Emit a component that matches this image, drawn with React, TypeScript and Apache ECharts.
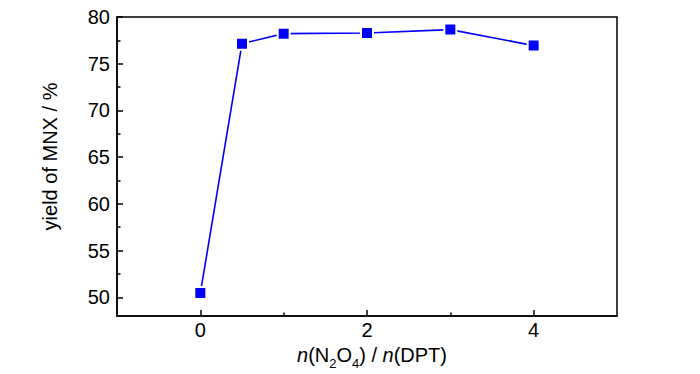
import React, { useEffect, useRef } from "react";
import * as echarts from "echarts";

const ratios = [0, 0.5, 1, 2, 3, 4];
const yields = [50.45, 77.15, 78.22, 78.29, 78.65, 76.94];
const xMajor = [0, 2, 4];
const xMinor = [1, 3];
const yMajor = [50, 55, 60, 65, 70, 75, 80];
const yMinor = [52.5, 57.5, 62.5, 67.5, 72.5, 77.5];

const FONT = "'Liberation Sans', Arial, sans-serif";

export default function App() {
  const ref = useRef<HTMLDivElement>(null);
  useEffect(() => {
    if (!ref.current) return;
    const chart = echarts.init(ref.current, undefined, { renderer: "svg" });
    const baseAxis = {
      type: "value" as const,
      splitLine: { show: false },
    };
    chart.setOption({
      animation: false,
      backgroundColor: "#fff",
      grid: {
        left: 117,
        top: 17,
        right: 83,
        bottom: 58,
        outerBoundsMode: "none",
        containLabel: false,
        show: true,
        borderColor: "#000",
        borderWidth: 1.5,
        backgroundColor: "transparent",
      },
      xAxis: [
        {
          ...baseAxis,
          min: -1,
          max: 5,
          position: "bottom",
          axisLine: { show: true, onZero: false, lineStyle: { color: "#000", width: 1.5 } },
          axisTick: { show: true, inside: true, length: 6, customValues: xMajor, lineStyle: { color: "#000", width: 1.5 } },
          axisLabel: { show: true, customValues: xMajor, margin: 4, color: "#000", fontSize: 20, fontFamily: FONT },
          name: "{i|n}{r|(N}{s|2}{r|O}{s|4}{r|) / }{i|n}{r|(DPT)}",
          nameLocation: "middle",
          nameGap: 28,
          nameTextStyle: {
            padding: [0, 0, 0, 10],
            rich: {
              i: { fontSize: 20, fontStyle: "italic", fontFamily: FONT, color: "#000", lineHeight: 24, verticalAlign: "top" },
              r: { fontSize: 20, fontFamily: FONT, color: "#000", lineHeight: 24, verticalAlign: "top" },
              s: { fontSize: 13, fontFamily: FONT, color: "#000", lineHeight: 24, verticalAlign: "top", padding: [12, 0, 0, 0] },
            },
          },
        },
        {
          ...baseAxis,
          min: -1,
          max: 5,
          position: "bottom",
          gridIndex: 0,
          axisLine: { show: false, onZero: false },
          axisTick: { show: true, inside: true, length: 3.5, customValues: xMinor, lineStyle: { color: "#000", width: 1.5 } },
          axisLabel: { show: false },
        },
      ],
      yAxis: [
        {
          ...baseAxis,
          min: 48,
          max: 80,
          position: "left",
          axisLine: { show: true, onZero: false, lineStyle: { color: "#000", width: 1.5 } },
          axisTick: { show: true, inside: true, length: 6, customValues: yMajor, lineStyle: { color: "#000", width: 1.5 } },
          axisLabel: { show: true, customValues: yMajor, margin: 7, color: "#000", fontSize: 20, fontFamily: FONT },
          name: "yield of MNX / %",
          nameLocation: "middle",
          nameRotate: 90,
          nameGap: 57,
          nameTextStyle: { fontSize: 20, fontFamily: FONT, color: "#000", padding: [0, 0, 0, 20] },
        },
        {
          ...baseAxis,
          min: 48,
          max: 80,
          position: "left",
          gridIndex: 0,
          axisLine: { show: false, onZero: false },
          axisTick: { show: true, inside: true, length: 3.5, customValues: yMinor, lineStyle: { color: "#000", width: 1.5 } },
          axisLabel: { show: false },
        },
      ],
      series: [
        {
          type: "line",
          data: ratios.map((r, i) => [r, yields[i]]),
          xAxisIndex: 0,
          yAxisIndex: 0,
          symbol: "rect",
          symbolSize: 12,
          lineStyle: { color: "#0000ff", width: 1.6 },
          itemStyle: { color: "#0000ff", borderColor: "#fff", borderWidth: 2 },
        },
      ],
    });
    return () => chart.dispose();
  }, []);
  return <div ref={ref} style={{ position: "fixed", left: 0, top: 0, width: 700, height: 374 }} />;
}
